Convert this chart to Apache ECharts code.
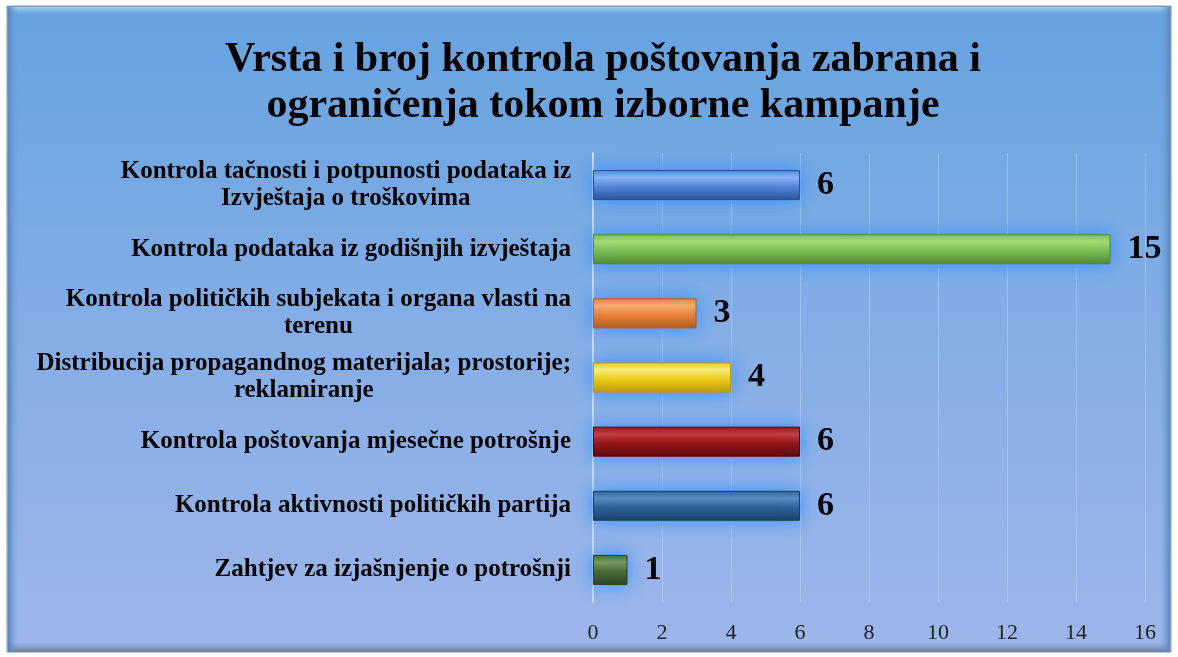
<!DOCTYPE html>
<html>
<head>
    <meta charset="utf-8">
    <title>Vrsta i broj kontrola</title>
    <script type="text/javascript" src="https://cdn.jsdelivr.net/npm/echarts@6/dist/echarts.min.js"></script>
    <style>
        html, body { margin: 0; padding: 0; background: #ffffff; }
    </style>
</head>
<body>
    <div id="main" style="width: 1178px;height:657px;"></div>
    <script type="text/javascript">

        var titleText = 'Vrsta i broj kontrola poštovanja zabrana i\nograničenja tokom izborne kampanje';

        var categories = [
            'Kontrola tačnosti i potpunosti podataka iz\nIzvještaja o troškovima',
            'Kontrola podataka iz godišnjih izvještaja',
            'Kontrola političkih subjekata i organa vlasti na\nterenu',
            'Distribucija propagandnog materijala; prostorije;\nreklamiranje',
            'Kontrola poštovanja mjesečne potrošnje',
            'Kontrola aktivnosti političkih partija',
            'Zahtjev za izjašnjenje o potrošnji'
        ];
        var values = [6, 15, 3, 4, 6, 6, 1];

        // boja: [svijetla, srednja, tamna]
        var barColors = [
            ['#8fb4f5', '#5585d8', '#2c4f96'],
            ['#a8e070', '#80c050', '#4f8a2a'],
            ['#ffae6a', '#f08232', '#b85a18'],
            ['#fff07a', '#f7d010', '#c09a00'],
            ['#c83a3a', '#9a1010', '#5e0606'],
            ['#5a8cc0', '#2f6196', '#1b3c60'],
            ['#7a9a5a', '#4c6a30', '#2c4018']
        ];

        var xTicks = [0, 2, 4, 6, 8, 10, 12, 14, 16];

        var chartDom = document.getElementById('main');
        var myChart = echarts.init(chartDom);

        var seriesData = values.map(function (v, i) {
            var c = barColors[i];
            return {
                value: v,
                itemStyle: {
                    color: new echarts.graphic.LinearGradient(0, 0, 0, 1, [
                        { offset: 0, color: c[1] },
                        { offset: 0.25, color: c[0] },
                        { offset: 0.55, color: c[1] },
                        { offset: 1, color: c[2] }
                    ]),
                    borderColor: c[2],
                    borderWidth: 1,
                    shadowColor: 'rgba(50,145,255,1)',
                    shadowBlur: 18
                }
            };
        });

        var option = {
            animation: false,
            graphic: [
                {
                    type: 'rect',
                    z: -10,
                    shape: { x: 7, y: 6, width: 1164, height: 646 },
                    style: {
                        fill: new echarts.graphic.LinearGradient(0, 0, 0, 1, [
                            { offset: 0, color: '#65a3df' },
                            { offset: 0.5, color: '#84ade6' },
                            { offset: 1, color: '#9db6ea' }
                        ]),
                        stroke: '#8696ab',
                        lineWidth: 1
                    }
                },
                {
                    type: 'rect',
                    z: -9,
                    shape: { x: 8, y: 7, width: 1162, height: 10 },
                    style: {
                        fill: new echarts.graphic.LinearGradient(0, 0, 0, 1, [
                            { offset: 0, color: '#a8d0f4' },
                            { offset: 1, color: 'rgba(101,163,223,0)' }
                        ])
                    }
                },
                {
                    type: 'rect',
                    z: -9,
                    shape: { x: 8, y: 642, width: 1162, height: 10 },
                    style: {
                        fill: new echarts.graphic.LinearGradient(0, 0, 0, 1, [
                            { offset: 0, color: 'rgba(120,140,180,0)' },
                            { offset: 1, color: '#6f7f9e' }
                        ])
                    }
                },
                {
                    type: 'rect',
                    z: -9,
                    shape: { x: 8, y: 7, width: 10, height: 644 },
                    style: {
                        fill: new echarts.graphic.LinearGradient(0, 0, 1, 0, [
                            { offset: 0, color: '#5a84b8' },
                            { offset: 1, color: 'rgba(101,163,223,0)' }
                        ])
                    }
                },
                {
                    type: 'rect',
                    z: -9,
                    shape: { x: 1160, y: 7, width: 10, height: 644 },
                    style: {
                        fill: new echarts.graphic.LinearGradient(0, 0, 1, 0, [
                            { offset: 0, color: 'rgba(101,163,223,0)' },
                            { offset: 1, color: '#5f86b6' }
                        ])
                    }
                }
            ],
            title: {
                text: titleText,
                left: 598,
                textAlign: 'center',
                top: 32,
                textStyle: {
                    fontFamily: 'Liberation Serif',
                    fontWeight: 'bold',
                    fontSize: 42,
                    lineHeight: 46,
                    color: '#000000'
                }
            },
            grid: {
                left: 593,
                right: 33,
                top: 153,
                bottom: 55,
                containLabel: false
            },
            xAxis: {
                type: 'value',
                min: xTicks[0],
                max: xTicks[xTicks.length - 1],
                interval: 2,
                axisLine: { show: false },
                axisTick: { show: false },
                splitLine: {
                    show: true,
                    lineStyle: { color: 'rgba(200,222,248,0.4)', width: 1 }
                },
                axisLabel: {
                    margin: 20,
                    fontFamily: 'Liberation Serif',
                    fontSize: 22,
                    color: '#222222'
                }
            },
            yAxis: {
                type: 'category',
                inverse: true,
                data: categories,
                axisLine: { show: true, lineStyle: { color: '#c4daf4', width: 2 } },
                axisTick: { show: false },
                axisLabel: {
                    margin: 22,
                    align: 'right',
                    formatter: function (v) {
                        return v.split('\n').map(function (s) {
                            return '{c|' + s + '}';
                        }).join('\n');
                    },
                    rich: {
                        c: {
                            align: 'center',
                            fontFamily: 'Liberation Serif',
                            fontWeight: 'bold',
                            fontSize: 25,
                            lineHeight: 27,
                            color: '#000000'
                        }
                    }
                }
            },
            series: [
                {
                    type: 'bar',
                    data: seriesData,
                    barWidth: 30,
                    label: {
                        show: true,
                        position: 'right',
                        distance: 17,
                        fontFamily: 'Liberation Serif',
                        fontWeight: 'bold',
                        fontSize: 34,
                        color: '#000000'
                    }
                }
            ]
        };
        myChart.setOption(option);

    </script>
</body>
</html>
